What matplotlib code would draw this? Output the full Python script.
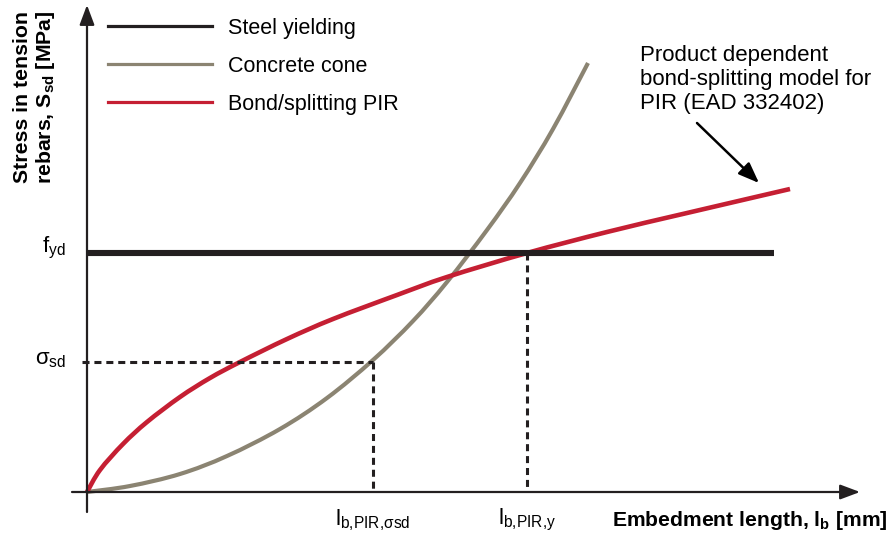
import matplotlib
matplotlib.use("Agg")
import matplotlib.pyplot as plt
import numpy as np
from matplotlib.lines import Line2D
from matplotlib.path import Path
from matplotlib.patches import PathPatch

plt.rcParams["font.family"] = ["Liberation Sans", "DejaVu Sans"]
plt.rcParams["mathtext.fontset"] = "custom"
plt.rcParams["mathtext.rm"] = "Liberation Sans"
plt.rcParams["mathtext.it"] = "Liberation Sans:italic"
plt.rcParams["mathtext.bf"] = "Liberation Sans:bold"

# Schematic curves (arbitrary units: embedment length vs. stress)
bond_x = [0, 13, 36, 60, 93, 123, 153, 200, 246, 310, 360, 440, 520, 600, 703]
bond_y = [0, 22, 48, 70, 95, 114, 130, 153, 173, 197, 215, 239, 260, 279, 303]

cone_x = [0, 43, 93, 140, 193, 240, 286, 326, 360, 400, 433, 466, 501]
cone_y = [0, 6, 18, 36, 63, 94, 132, 171, 210, 262, 309, 363, 429]

steel_x = [0, 687]
f_yd = 239
sigma_sd = 130
lb_sigma = 286
lb_y = 440

legend_labels = ["Steel yielding", "Concrete cone", "Bond/splitting PIR"]
x_tick_labels = [r"$\mathrm{l_{b{,}PIR{,}σsd}}$", r"$\mathrm{l_{b{,}PIR{,}y}}$"]
y_tick_labels = [r"$\mathrm{f_{yd}}$", r"$\mathrm{σ_{sd}}$"]

BLACK = "#231f20"
GREY = "#8b8472"
RED = "#c51f33"


def smooth_curve(xs, ys):
    """Catmull-Rom curve through the points, expressed as cubic Bezier segments."""
    p = np.column_stack([xs, ys]).astype(float)
    ext = np.vstack([p[0], p, p[-1]])
    verts = [p[0]]
    codes = [Path.MOVETO]
    for i in range(1, len(ext) - 2):
        p0, p1, p2, p3 = ext[i - 1], ext[i], ext[i + 1], ext[i + 2]
        verts += [p1 + (p2 - p0) / 6, p2 - (p3 - p1) / 6, p2]
        codes += [Path.CURVE4] * 3
    return Path(verts, codes)


fig = plt.figure(figsize=(8.96, 5.35), dpi=100)
ax = fig.add_axes([0, 0, 1, 1])
ax.set_xlim(-87, 809)
ax.set_ylim(-43, 492)
ax.axis("off")

# Axes with arrow heads
arrow_kw = dict(arrowstyle="-|>,head_length=0.8,head_width=0.3", color=BLACK, lw=1.6,
                shrinkA=0, shrinkB=0, mutation_scale=15)
ax.annotate("", xy=(773, 0), xytext=(-15, 0), arrowprops=arrow_kw)
ax.annotate("", xy=(0, 487), xytext=(0, -20), arrowprops=arrow_kw)

# Guide lines
dash = dict(color=BLACK, lw=2.2, dashes=(2.3, 1.6))
ax.plot([-5, lb_sigma], [sigma_sd, sigma_sd], **dash)
ax.plot([lb_sigma, lb_sigma], [sigma_sd, 0], **dash)
ax.plot([lb_y, lb_y], [f_yd, 0], **dash)

# Curves
ax.plot(steel_x, [f_yd, f_yd], color=BLACK, lw=4.4, solid_capstyle="butt")
ax.add_patch(PathPatch(smooth_curve(cone_x, cone_y), fill=False, edgecolor=GREY, lw=3.0,
                       capstyle="butt", joinstyle="round"))
ax.add_patch(PathPatch(smooth_curve(bond_x, bond_y), fill=False, edgecolor=RED, lw=3.3,
                       capstyle="butt", joinstyle="round"))

# Legend
handles = [Line2D([], [], color=c, lw=2.3) for c in (BLACK, GREY, RED)]
ax.legend(handles, legend_labels, loc="upper left", bbox_to_anchor=(108 / 896, 1 - 18 / 535),
          frameon=False, fontsize=15.5, handlelength=4.83, handletextpad=0.74,
          labelspacing=0.78, borderpad=0, borderaxespad=0)

# Axis value labels
ax.text(-21, f_yd + 5, y_tick_labels[0], fontsize=16, ha="right", va="center")
ax.text(-21, sigma_sd + 3, y_tick_labels[1], fontsize=16, ha="right", va="center")
ax.text(lb_sigma, -28, x_tick_labels[0], fontsize=16, ha="center", va="center")
ax.text(lb_y, -28, x_tick_labels[1], fontsize=16, ha="center", va="center")

# Axis titles
ax.text(801, -28, r"Embedment length, $\mathbf{l_b}$ [mm]", fontsize=15.2, fontweight="bold",
        ha="right", va="center")
ax.text(-52, 395, "Stress in tension\n" + r"rebars, $\mathbf{S_{sd}}$ [MPa]", fontsize=15.3,
        fontweight="bold", rotation=90, ha="center", va="center", multialignment="center",
        linespacing=1.15)

# Model note with pointer
ax.text(553, 447, "Product dependent\nbond-splitting model for\nPIR (EAD 332402)",
        fontsize=16, ha="left", va="top", linespacing=1.2)
ax.annotate("", xy=(672, 309), xytext=(610, 369),
            arrowprops=dict(arrowstyle="-|>,head_length=0.9,head_width=0.35", color="black",
                            lw=1.8, shrinkA=0, shrinkB=0, mutation_scale=14))

fig.savefig("out.png", dpi=100)
